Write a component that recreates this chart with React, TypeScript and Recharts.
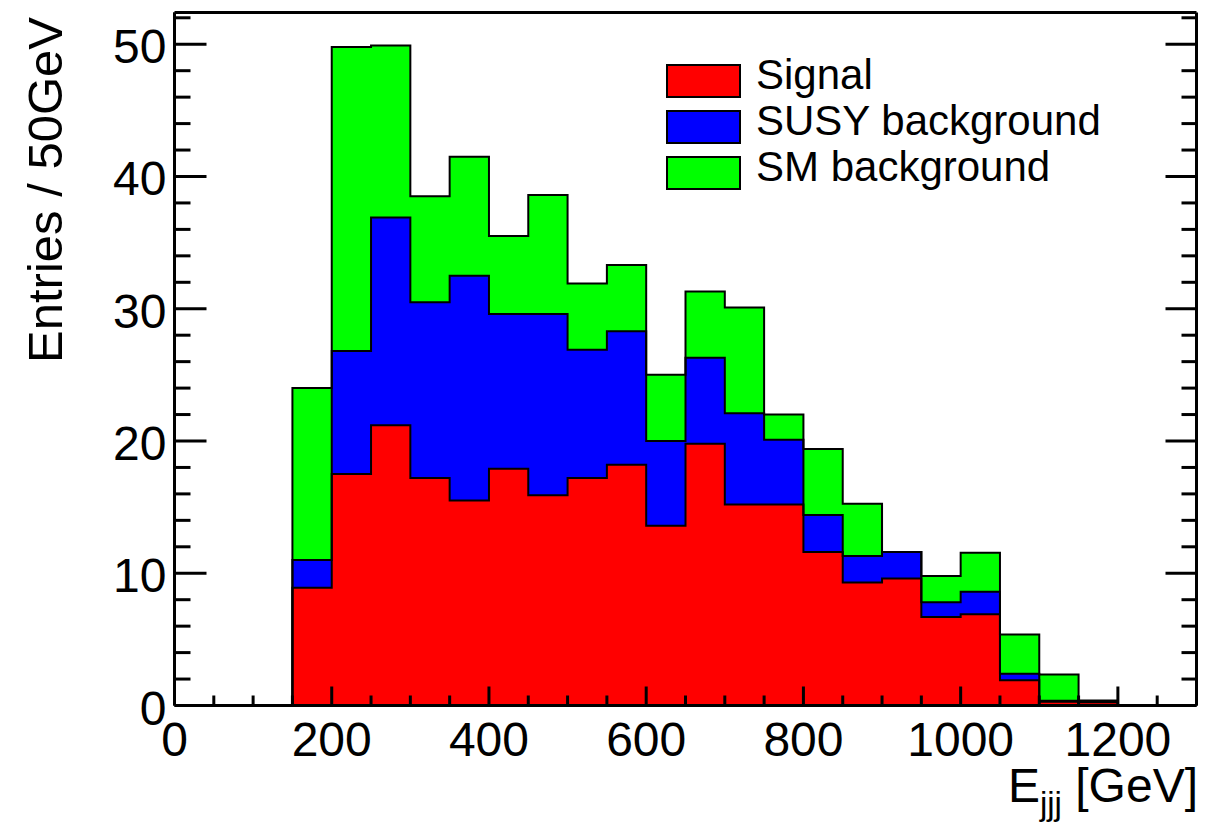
import React from 'react';
import { ComposedChart, Area, Line, XAxis, YAxis, Legend, Label } from 'recharts';

// Bin lower edges (GeV), 50 GeV bins
const binLow = [150, 200, 250, 300, 350, 400, 450, 500, 550, 600, 650, 700, 750, 800, 850, 900, 950, 1000, 1050, 1100, 1150];
const binWidth = 50;

// Entries per bin for each stacked component
const signal = [8.9, 17.5, 21.2, 17.2, 15.5, 17.9, 15.9, 17.2, 18.2, 13.6, 19.8, 15.2, 15.2, 11.6, 9.3, 9.6, 6.7, 6.9, 1.9, 0.28, 0.25];
const susy = [2.1, 9.3, 15.7, 13.3, 17.0, 11.7, 13.7, 9.7, 10.1, 6.4, 6.5, 6.9, 4.9, 2.8, 2.0, 2.0, 1.1, 1.7, 0.5, 0.07, 0.05];
const sm = [13.0, 23.0, 13.0, 8.0, 9.0, 5.9, 9.0, 5.0, 5.0, 5.0, 5.0, 8.0, 1.9, 5.0, 3.95, 0, 2.0, 2.95, 2.96, 1.99, 0.08];

const seriesNames = ['Signal', 'SUSY background', 'SM background'];
const seriesColors = ['#ff0000', '#0000ff', '#00ff00'];

const xTicks = [0, 50, 100, 150, 200, 250, 300, 350, 400, 450, 500, 550, 600, 650, 700, 750, 800, 850, 900, 950, 1000, 1050, 1100, 1150, 1200, 1250, 1300];
const yTicks = [0, 2, 4, 6, 8, 10, 12, 14, 16, 18, 20, 22, 24, 26, 28, 30, 32, 34, 36, 38, 40, 42, 44, 46, 48, 50, 52];
const xDomain = [0, 1300];
const yDomain = [0, 52.4];

const n = binLow.length;
const rows = binLow.map((x, i) => ({ x, signal: signal[i], susy: susy[i], sm: sm[i] }));
const data = [
  { x: binLow[0], signal: 0, susy: 0, sm: 0 },
  ...rows,
  { x: binLow[n - 1] + binWidth, signal: signal[n - 1], susy: susy[n - 1], sm: sm[n - 1] },
  { x: binLow[n - 1] + binWidth, signal: 0, susy: 0, sm: 0 },
].map((d) => ({ ...d, c1: d.signal, c2: d.signal + d.susy, c3: d.signal + d.susy + d.sm }));

const FONT = '"Liberation Sans", Arial, Helvetica, sans-serif';

function BottomTick(props: any) {
  const { x, y, payload } = props;
  const v = payload.value;
  const major = v % 200 === 0;
  return (
    <g>
      <line x1={x} x2={x} y1={y} y2={y - (major ? 19 : 10)} stroke="#000" strokeWidth={3} />
      {major && (
        <text x={x} y={y + 50} textAnchor="middle" fontSize={48} fontFamily={FONT} fill="#000">
          {v}
        </text>
      )}
    </g>
  );
}

function TopTick(props: any) {
  const { x, y, payload } = props;
  const major = payload.value % 200 === 0;
  return <line x1={x} x2={x} y1={y} y2={y + (major ? 19 : 10)} stroke="#000" strokeWidth={3} />;
}

function LeftTick(props: any) {
  const { x, y, payload } = props;
  const v = payload.value;
  const major = v % 10 === 0;
  return (
    <g>
      <line x1={x} x2={x + (major ? 32 : 16)} y1={y} y2={y} stroke="#000" strokeWidth={3} />
      {major && (
        <text x={x - 8} y={y + 19} textAnchor="end" fontSize={48} fontFamily={FONT} fill="#000">
          {v}
        </text>
      )}
    </g>
  );
}

function RightTick(props: any) {
  const { x, y, payload } = props;
  const major = payload.value % 10 === 0;
  return <line x1={x} x2={x - (major ? 31 : 15)} y1={y} y2={y} stroke="#000" strokeWidth={3} />;
}

function LegendBox() {
  return (
    <svg width={500} height={170} style={{ display: 'block', overflow: 'visible' }}>
      {seriesNames.map((name, i) => (
        <g key={name}>
          <rect x={7} y={10 + i * 46} width={73} height={32} fill={seriesColors[i]} stroke="#000" strokeWidth={2} />
          <text x={96} y={34 + i * 46} fontSize={42} fontFamily={FONT} fill="#000">
            {name}
          </text>
        </g>
      ))}
    </svg>
  );
}

function YTitle() {
  return (
    <text
      x={62}
      y={190}
      transform="rotate(-90 62 190)"
      textAnchor="middle"
      fontSize={49}
      fontFamily={FONT}
      fill="#000"
    >
      Entries / 50GeV
    </text>
  );
}

function XTitle() {
  return (
    <text x={1198} y={802} textAnchor="end" fontSize={48} fontFamily={FONT} fill="#000">
      <tspan>E</tspan>
      <tspan dy={13} fontSize={33}>jjj</tspan>
      <tspan dy={-13}> [GeV]</tspan>
    </text>
  );
}

export default function App() {
  return (
    <div style={{ position: 'absolute', left: 0, top: 0, width: 1219, height: 826, background: '#fff' }}>
      <ComposedChart
        width={1219}
        height={826}
        data={data}
        margin={{ top: 11.5, right: 21.5, bottom: 119.5, left: 173.5 }}
      >
        {seriesNames.map((name, i) => (
          <Area
            key={name}
            xAxisId="b"
            yAxisId="l"
            type="stepAfter"
            dataKey={['signal', 'susy', 'sm'][i]}
            name={name}
            stackId="stack"
            fill={seriesColors[i]}
            fillOpacity={1}
            stroke="none"
            isAnimationActive={false}
            legendType="none"
          />
        ))}
        {['c1', 'c2', 'c3'].map((k) => (
          <Line
            key={k}
            xAxisId="b"
            yAxisId="l"
            type="stepAfter"
            dataKey={k}
            stroke="#000"
            strokeWidth={2}
            dot={false}
            activeDot={false}
            isAnimationActive={false}
            legendType="none"
          />
        ))}
        <XAxis
          xAxisId="b"
          type="number"
          dataKey="x"
          domain={xDomain}
          ticks={xTicks}
          interval={0}
          height={1}
          tickSize={0}
          tickMargin={0}
          tickLine={false}
          axisLine={{ stroke: '#000', strokeWidth: 3 }}
          tick={<BottomTick />}
          allowDataOverflow
        >
          <Label content={<XTitle />} />
        </XAxis>
        <XAxis
          xAxisId="t"
          orientation="top"
          type="number"
          domain={xDomain}
          ticks={xTicks}
          interval={0}
          height={1}
          tickSize={0}
          tickMargin={0}
          tickLine={false}
          axisLine={{ stroke: '#000', strokeWidth: 3 }}
          tick={<TopTick />}
          allowDataOverflow
        />
        <YAxis
          yAxisId="l"
          type="number"
          domain={yDomain}
          ticks={yTicks}
          interval={0}
          width={1}
          tickSize={0}
          tickMargin={0}
          tickLine={false}
          axisLine={{ stroke: '#000', strokeWidth: 3 }}
          tick={<LeftTick />}
          allowDataOverflow
        >
          <Label content={<YTitle />} />
        </YAxis>
        <YAxis
          yAxisId="r"
          orientation="right"
          type="number"
          domain={yDomain}
          ticks={yTicks}
          interval={0}
          width={1}
          tickSize={0}
          tickMargin={0}
          tickLine={false}
          axisLine={{ stroke: '#000', strokeWidth: 3 }}
          tick={<RightTick />}
          allowDataOverflow
        />
        <Legend
          layout="horizontal"
          verticalAlign="middle"
          content={<LegendBox />}
          wrapperStyle={{ left: 660, top: 55, width: 500, height: 170 }}
        />
      </ComposedChart>
    </div>
  );
}
